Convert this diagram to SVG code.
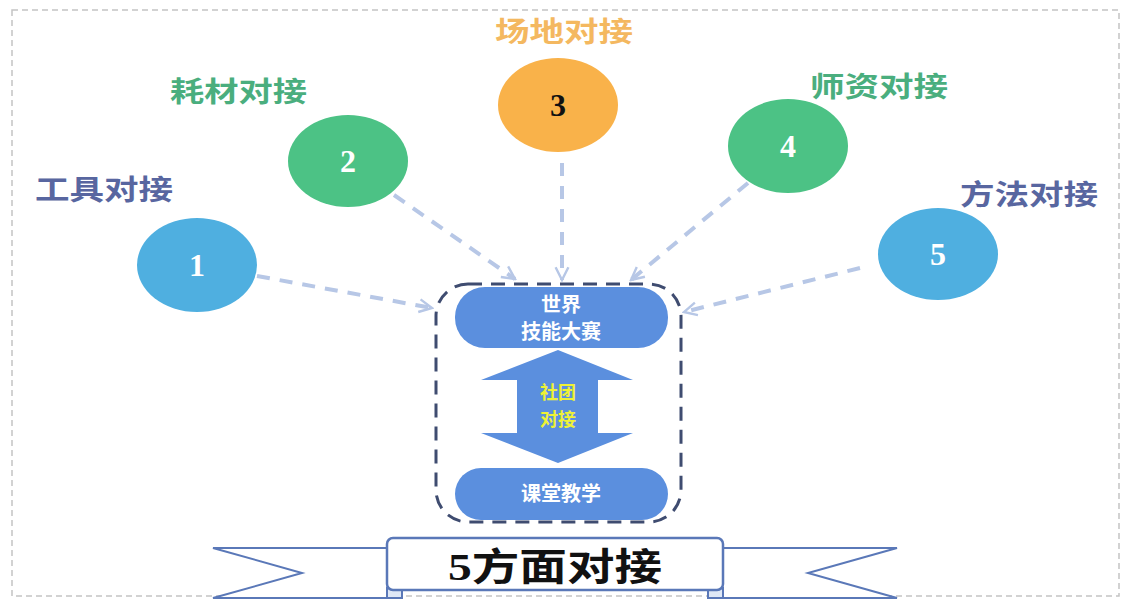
<svg xmlns="http://www.w3.org/2000/svg" width="1123" height="599" viewBox="0 0 1123 599">
<defs>
<style>
.lbl{font-family:"Liberation Serif","Noto Sans CJK SC",serif;font-weight:bold;font-size:28px}
.num{font-family:"Liberation Serif",serif;font-weight:bold;font-size:32px;fill:#fff;text-anchor:middle}
.wt{font-family:"Noto Sans CJK SC","Liberation Sans",sans-serif;font-weight:bold;font-size:20px;fill:#fff;text-anchor:middle}
.yt{font-family:"Noto Sans CJK SC","Liberation Sans",sans-serif;font-weight:bold;font-size:18px;fill:#eef235;text-anchor:middle}
.conn{fill:none;stroke:#b7c7e6;stroke-width:4;stroke-dasharray:13 10;marker-end:url(#ah)}
</style>
<marker id="ah" viewBox="0 0 10 10" refX="9" refY="5" markerWidth="4" markerHeight="4" orient="auto" markerUnits="strokeWidth">
<path d="M1 1 L9 5 L1 9" fill="none" stroke="#b7c7e6" stroke-width="1.5"/>
</marker>
</defs>
<rect width="1123" height="599" fill="#fff"/>
<rect x="12" y="10" width="1107" height="586" fill="none" stroke="#c4c4c4" stroke-width="1.5" stroke-dasharray="6 4"/>

<g id="connectors">
<line class="conn" x1="257" y1="276" x2="432" y2="308"/>
<line class="conn" x1="394" y1="195" x2="515" y2="279"/>
<line class="conn" x1="562" y1="163" x2="562" y2="280"/>
<line class="conn" x1="748" y1="183" x2="631" y2="280"/>
<line class="conn" x1="860" y1="268" x2="684" y2="312"/>
</g>

<g id="node1">
<ellipse cx="197" cy="265" rx="60" ry="47" fill="#4fafe0"/>
<text class="num" x="197" y="276">1</text>
<text class="lbl" x="35" y="200" fill="#5866a0" textLength="138" lengthAdjust="spacingAndGlyphs">工具对接</text>
</g>
<g id="node2">
<ellipse cx="348" cy="161" rx="60" ry="46" fill="#4cc285"/>
<text class="num" x="348" y="172">2</text>
<text class="lbl" x="170" y="102" fill="#4aae7e" textLength="137" lengthAdjust="spacingAndGlyphs">耗材对接</text>
</g>
<g id="node3">
<ellipse cx="558" cy="105" rx="60" ry="47" fill="#f9b24a"/>
<text class="num" x="558" y="116" style="fill:#111">3</text>
<text class="lbl" x="495" y="42" fill="#f4b860" textLength="138" lengthAdjust="spacingAndGlyphs">场地对接</text>
</g>
<g id="node4">
<ellipse cx="788" cy="146" rx="60" ry="47" fill="#4cc285"/>
<text class="num" x="788" y="157">4</text>
<text class="lbl" x="810" y="97" fill="#4aae7e" textLength="138" lengthAdjust="spacingAndGlyphs">师资对接</text>
</g>
<g id="node5">
<ellipse cx="938" cy="254" rx="60" ry="46" fill="#4fafe0"/>
<text class="num" x="938" y="265">5</text>
<text class="lbl" x="960" y="205" fill="#5866a0" textLength="138" lengthAdjust="spacingAndGlyphs">方法对接</text>
</g>

<g id="center">
<rect x="436" y="284" width="245" height="238" rx="32" fill="none" stroke="#3f4c70" stroke-width="3" stroke-dasharray="14 9"/>
<rect x="455" y="287" width="213" height="61" rx="30" fill="#5b8fde"/>
<text class="wt" x="561" y="312">世界</text>
<text class="wt" x="561" y="339">技能大赛</text>
<path d="M558 350 L633 380 L598 380 L598 433 L633 433 L558 463 L481 433 L517 433 L517 380 L481 380 Z" fill="#5b8fde"/>
<text class="yt" x="558" y="399">社团</text>
<text class="yt" x="558" y="426">对接</text>
<rect x="455" y="468" width="213" height="52" rx="26" fill="#5b8fde"/>
<text class="wt" x="561" y="501">课堂教学</text>
</g>

<g id="banner">
<path d="M387 548 L213 548 L302 573 L213 598 L387 598" fill="#fff" stroke="#5a78b8" stroke-width="2"/>
<path d="M723 548 L897 548 L808 573 L897 598 L723 598" fill="#fff" stroke="#5a78b8" stroke-width="2"/>
<path d="M387 588 L387 598 L402 598 L402 590 Z" fill="#dfe8f6" stroke="#5a78b8" stroke-width="2"/>
<path d="M723 588 L723 598 L708 598 L708 590 Z" fill="#dfe8f6" stroke="#5a78b8" stroke-width="2"/>
<rect x="387" y="538" width="336" height="52" rx="6" fill="#fff" stroke="#5a78b8" stroke-width="2.5"/>
<text x="555" y="580" font-family="Liberation Serif,Noto Sans CJK SC,serif" font-weight="bold" font-size="38" fill="#111" text-anchor="middle" textLength="214" lengthAdjust="spacingAndGlyphs">5方面对接</text>
</g>
</svg>
